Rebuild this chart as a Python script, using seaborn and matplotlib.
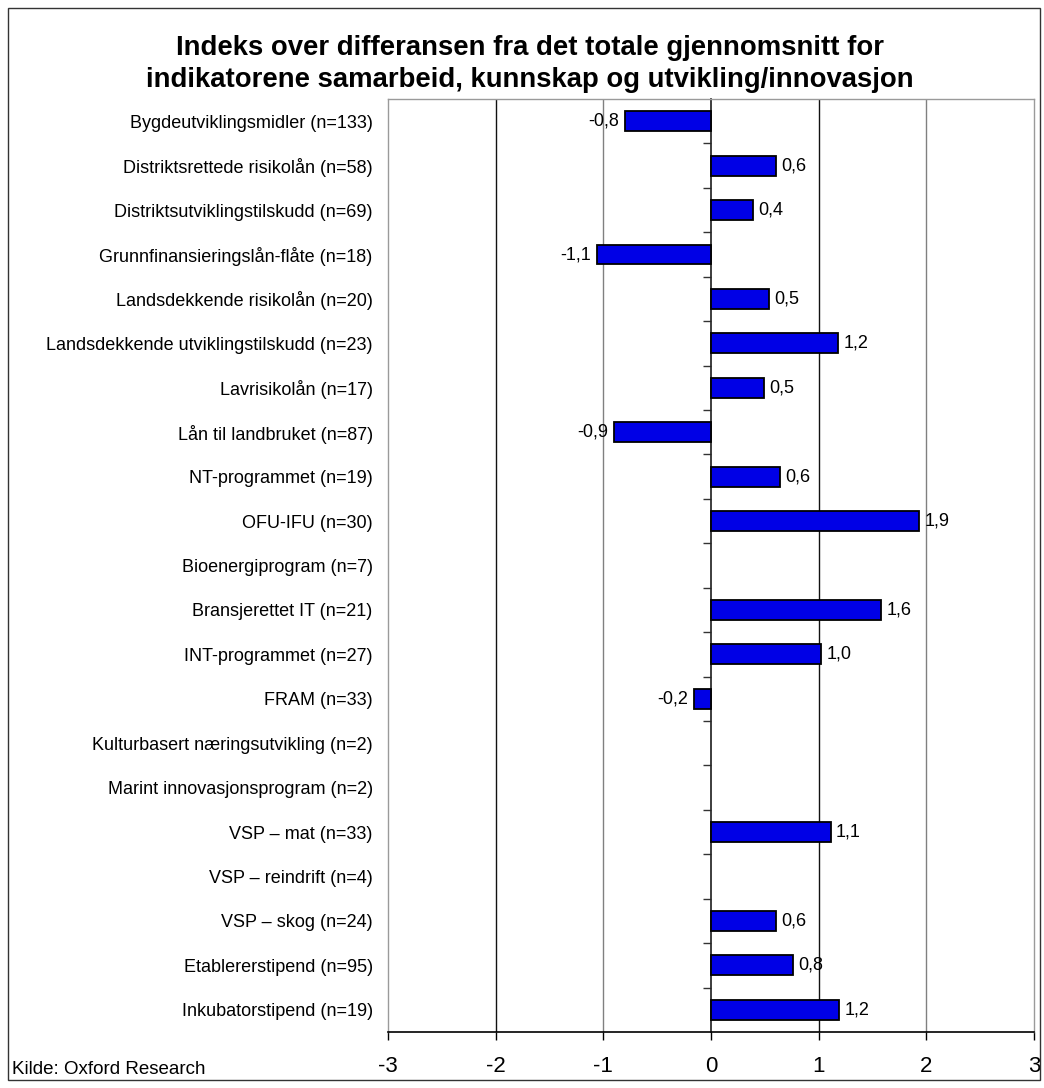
import numpy as np
import pandas as pd
import matplotlib
matplotlib.use("Agg")
import matplotlib.pyplot as plt
import matplotlib.patches as mpatches
import seaborn as sns

categories = [
    "Bygdeutviklingsmidler (n=133)",
    "Distriktsrettede risikolån (n=58)",
    "Distriktsutviklingstilskudd (n=69)",
    "Grunnfinansieringslån-flåte (n=18)",
    "Landsdekkende risikolån (n=20)",
    "Landsdekkende utviklingstilskudd (n=23)",
    "Lavrisikolån (n=17)",
    "Lån til landbruket (n=87)",
    "NT-programmet (n=19)",
    "OFU-IFU (n=30)",
    "Bioenergiprogram (n=7)",
    "Bransjerettet IT (n=21)",
    "INT-programmet (n=27)",
    "FRAM (n=33)",
    "Kulturbasert næringsutvikling (n=2)",
    "Marint innovasjonsprogram (n=2)",
    "VSP – mat (n=33)",
    "VSP – reindrift (n=4)",
    "VSP – skog (n=24)",
    "Etablererstipend (n=95)",
    "Inkubatorstipend (n=19)",
]
values = [-0.80, 0.60, 0.39, -1.06, 0.54, 1.18, 0.49, -0.90, 0.64, 1.93,
          np.nan, 1.58, 1.02, -0.16, np.nan, np.nan, 1.11, np.nan, 0.60, 0.76, 1.19]
x_ticks = [-3, -2, -1, 0, 1, 2, 3]
title = ("Indeks over differansen fra det totale gjennomsnitt for\n"
         "indikatorene samarbeid, kunnskap og utvikling/innovasjon")
source = "Kilde: Oxford Research"

sns.set_theme(style="white")
plt.rcParams["font.family"] = ["Liberation Sans", "DejaVu Sans"]
plt.rcParams["text.color"] = "black"
plt.rcParams["xtick.color"] = "black"
plt.rcParams["ytick.color"] = "black"
plt.rcParams["xtick.labelcolor"] = "black"
plt.rcParams["ytick.labelcolor"] = "black"

df = pd.DataFrame({"kategori": categories, "verdi": values})

fig = plt.figure(figsize=(10.44, 10.88), dpi=100)
ax = fig.add_axes([388 / 1044, 1 - 1032 / 1088, (1034 - 388) / 1044, (1032 - 99) / 1088])

sns.barplot(data=df.dropna(), x="verdi", y="kategori", order=categories, orient="h",
            color="#0000E6", saturation=1, edgecolor="black", linewidth=1.3,
            width=0.45, ax=ax, zorder=3)

ax.set_xlim(-3, 3)
ax.set_ylim(len(categories) - 0.5, -0.5)
ax.set_xticks(x_ticks)
ax.set_xticklabels([str(t) for t in x_ticks], fontsize=16)
ax.set_yticks(range(len(categories)))
ax.set_yticklabels(categories, fontsize=13)
ax.set_xlabel("")
ax.set_ylabel("")

ax.tick_params(axis="y", length=0, pad=11)
ax.tick_params(axis="x", direction="out", length=6, width=1, color="black", pad=11,
               bottom=True)

grid_colors = {-2: "#111111", -1: "#808080", 1: "#111111", 2: "#808080"}
for t, c in grid_colors.items():
    ax.axvline(t, color=c, lw=1, zorder=1)

for s in ["left", "top", "right"]:
    ax.spines[s].set_color("#9a9a9a")
    ax.spines[s].set_linewidth(1)
ax.spines["bottom"].set_color("black")
ax.spines["bottom"].set_linewidth(1.2)

sec = ax.secondary_yaxis(0.5)
sec.set_yticks(np.arange(0.5, len(categories) - 1, 1.0))
sec.set_yticklabels([])
sec.tick_params(axis="y", direction="in", length=6, width=1, color="#333333")
sec.spines["left"].set_color("black")
sec.spines["left"].set_linewidth(1.2)

for i, v in enumerate(values):
    if np.isnan(v):
        continue
    lab = f"{v:.1f}".replace(".", ",")
    off = 4 if v >= 0 else -4
    ax.annotate(lab, xy=(v, i), xytext=(off, 0), textcoords="offset points",
                ha="left" if v >= 0 else "right", va="center", fontsize=13,
                color="black", zorder=4)

fig.text(530 / 1044, 1 - 64 / 1088, title, ha="center", va="center",
         fontsize=19.8, fontweight="bold", linespacing=1.32, color="black")
fig.text(12 / 1044, 1 - 1070 / 1088, source, ha="left", va="center", fontsize=13.5,
         color="black")

fig.patches.append(mpatches.Rectangle((8 / 1044, 8 / 1088), (1040 - 8) / 1044,
                                      (1080 - 8) / 1088, transform=fig.transFigure,
                                      fill=False, edgecolor="#333333", lw=1))

fig.savefig("out.png", dpi=100, facecolor="white")
